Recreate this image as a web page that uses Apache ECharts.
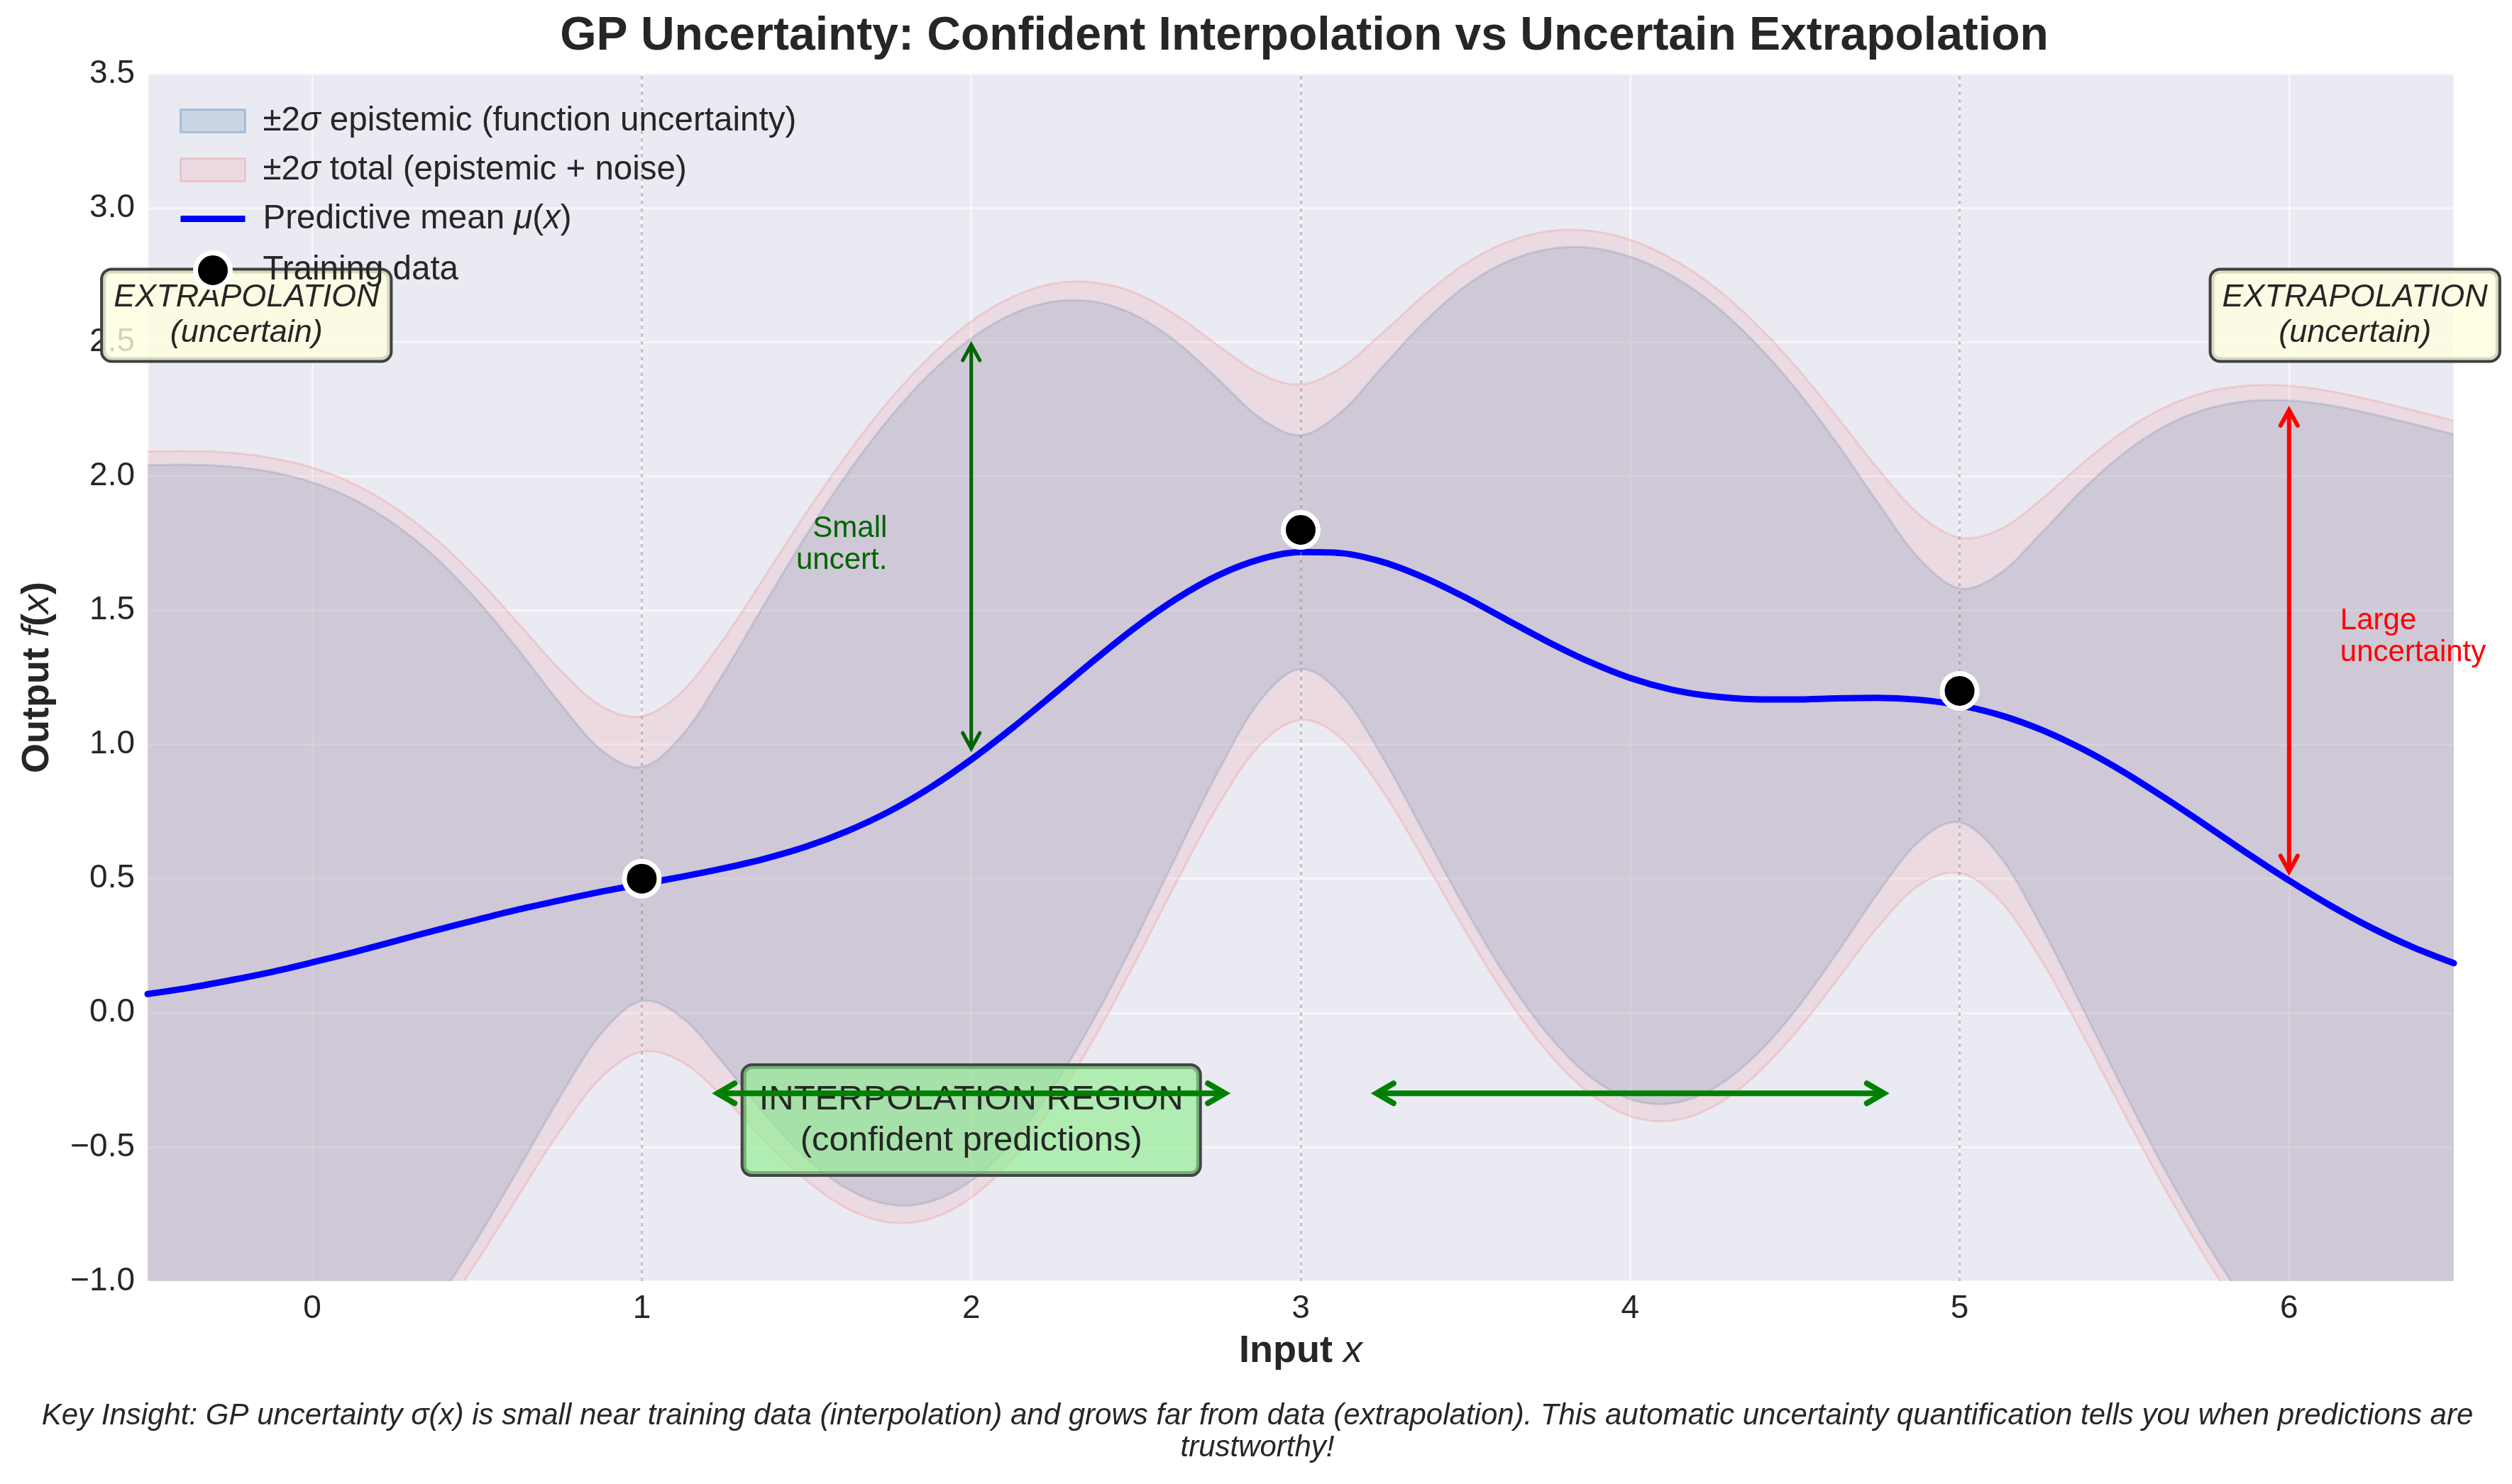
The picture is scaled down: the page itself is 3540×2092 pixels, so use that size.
<!DOCTYPE html>
<html>
<head>
<meta charset="utf-8">
<script src="https://cdn.jsdelivr.net/npm/echarts@6/dist/echarts.min.js"></script>
<style>
  html, body { margin: 0; padding: 0; background: #ffffff; }
  #chart { width: 3540px; height: 2092px; }
</style>
</head>
<body>
<div id="chart"></div>
<script>
// ---------------- DATA (read / estimated from the reference picture) ----------------
const xs = [-0.5, -0.375, -0.25, -0.125, 0, 0.125, 0.25, 0.375, 0.5, 0.625, 0.75, 0.875, 1,
            1.125, 1.25, 1.375, 1.5, 1.625, 1.75, 1.875, 2, 2.125, 2.25, 2.375, 2.5, 2.625, 2.75, 2.875, 3,
            3.125, 3.25, 3.375, 3.5, 3.625, 3.75, 3.875, 4, 4.125, 4.25, 4.375, 4.5, 4.625, 4.75, 4.875, 5,
            5.125, 5.25, 5.375, 5.5, 5.625, 5.75, 5.875, 6, 6.125, 6.25, 6.375, 6.5];
const meanVals = [0.070, 0.093, 0.121, 0.152, 0.188, 0.226, 0.267, 0.308, 0.347, 0.385, 0.419, 0.451, 0.480,
                  0.508, 0.539, 0.575, 0.620, 0.678, 0.750, 0.839, 0.944, 1.062, 1.188, 1.316, 1.438, 1.545, 1.631, 1.690, 1.717,
                  1.713, 1.680, 1.622, 1.548, 1.465, 1.383, 1.309, 1.248, 1.205, 1.180, 1.169, 1.168, 1.172, 1.174, 1.167, 1.146,
                  1.109, 1.054, 0.982, 0.896, 0.799, 0.697, 0.593, 0.493, 0.400, 0.317, 0.245, 0.185];
const epiUpper = [2.041, 2.043, 2.036, 2.016, 1.977, 1.914, 1.821, 1.696, 1.538, 1.354, 1.156, 0.982, 0.916,
                  1.038, 1.270, 1.529, 1.782, 2.012, 2.214, 2.383, 2.514, 2.605, 2.651, 2.650, 2.599, 2.499, 2.361, 2.219, 2.153,
                  2.242, 2.410, 2.575, 2.709, 2.799, 2.846, 2.852, 2.818, 2.749, 2.644, 2.503, 2.330, 2.127, 1.905, 1.696, 1.582,
                  1.640, 1.791, 1.952, 2.087, 2.188, 2.251, 2.280, 2.282, 2.264, 2.232, 2.195, 2.156];
const epiLower = [-1.901, -1.856, -1.794, -1.711, -1.601, -1.461, -1.287, -1.081, -0.844, -0.584, -0.318, -0.080, 0.044,
                  -0.021, -0.192, -0.380, -0.542, -0.657, -0.714, -0.704, -0.626, -0.482, -0.275, -0.018, 0.277, 0.592, 0.901, 1.161, 1.281,
                  1.184, 0.950, 0.669, 0.387, 0.131, -0.080, -0.235, -0.322, -0.338, -0.284, -0.166, 0.006, 0.218, 0.443, 0.637, 0.710,
                  0.579, 0.317, 0.013, -0.295, -0.590, -0.857, -1.094, -1.296, -1.463, -1.598, -1.704, -1.786];
const totUpper = [2.092, 2.093, 2.088, 2.068, 2.032, 1.972, 1.884, 1.766, 1.620, 1.452, 1.281, 1.145, 1.105,
                  1.201, 1.396, 1.629, 1.865, 2.085, 2.281, 2.446, 2.577, 2.668, 2.718, 2.722, 2.682, 2.598, 2.487, 2.383, 2.342,
                  2.406, 2.536, 2.675, 2.792, 2.872, 2.913, 2.915, 2.881, 2.812, 2.711, 2.576, 2.413, 2.226, 2.031, 1.860, 1.771,
                  1.803, 1.916, 2.050, 2.169, 2.258, 2.314, 2.338, 2.337, 2.317, 2.284, 2.246, 2.207];
const totLower = [-1.952, -1.907, -1.846, -1.764, -1.656, -1.519, -1.350, -1.151, -0.926, -0.683, -0.443, -0.243, -0.145,
                  -0.185, -0.318, -0.479, -0.625, -0.730, -0.781, -0.768, -0.689, -0.545, -0.342, -0.091, 0.194, 0.492, 0.775, 0.997, 1.092,
                  1.021, 0.824, 0.569, 0.304, 0.058, -0.147, -0.298, -0.385, -0.402, -0.351, -0.239, -0.077, 0.118, 0.317, 0.474, 0.521,
                  0.415, 0.192, -0.085, -0.377, -0.660, -0.920, -1.152, -1.351, -1.516, -1.650, -1.755, -1.837];
const trainX = [1, 3, 5];
const trainY = [0.5, 1.8, 1.2];

const xTickValues = [0, 1, 2, 3, 4, 5, 6];
const yTickLabels = ['−1.0', '−0.5', '0.0', '0.5', '1.0', '1.5', '2.0', '2.5', '3.0', '3.5'];

const legendLabels = {
  epiBand: '{s| }±2{i|σ} epistemic (function uncertainty)',
  totBand: '{s| }±2{i|σ} total (epistemic + noise)',
  mean: '{s| }Predictive mean {i|μ}({i|x})',
  train: '{s| }Training data'
};

// annotation anchors (data coordinates)
const extrapBoxes = [[-0.2, 2.6], [6.2, 2.6]];
const interpBox = [2.0, -0.4];
const smallArrow = [[2, 0.985], [2, 2.49]];
const largeArrow = [[6, 0.527], [6, 2.247]];
const hArrows = [[[1.23, -0.3], [2.77, -0.3]], [[3.23, -0.3], [4.77, -0.3]]];
const smallLabel = [1.745, 1.745];
const largeLabel = [6.155, 1.4];

// ---------------- CHART ----------------
const FONT = '"Liberation Sans", Arial, Helvetica, sans-serif';
const TXT = '#262626';
const epiFill = 'rgba(70,130,180,0.2)';
const epiEdge = 'rgba(70,130,180,0.22)';
const totFill = 'rgba(240,128,128,0.15)';
const totEdge = 'rgba(240,128,128,0.25)';

const chart = echarts.init(document.getElementById('chart'), null, { renderer: 'canvas' });

function pairs(a) { return xs.map((x, i) => [x, a[i]]); }

// Catmull-Rom densification in pixel space (visual smoothing between plotted points)
function smoothPts(pts) {
  const out = [];
  const n = pts.length;
  for (let i = 0; i < n - 1; i++) {
    const p0 = pts[Math.max(i - 1, 0)], p1 = pts[i], p2 = pts[i + 1], p3 = pts[Math.min(i + 2, n - 1)];
    const c1 = [p1[0] + (p2[0] - p0[0]) / 6, p1[1] + (p2[1] - p0[1]) / 6];
    const c2 = [p2[0] - (p3[0] - p1[0]) / 6, p2[1] - (p3[1] - p1[1]) / 6];
    const steps = 8;
    for (let s = 0; s < steps; s++) {
      const t = s / steps, u = 1 - t;
      out.push([
        u * u * u * p1[0] + 3 * u * u * t * c1[0] + 3 * u * t * t * c2[0] + t * t * t * p2[0],
        u * u * u * p1[1] + 3 * u * u * t * c1[1] + 3 * u * t * t * c2[1] + t * t * t * p2[1]
      ]);
    }
  }
  out.push(pts[n - 1]);
  return out;
}

function bandRenderer(lo, hi, fill, edge) {
  return function (params, api) {
    if (params.dataIndex !== 0) return null;
    const up = smoothPts(xs.map((x, i) => api.coord([x, hi[i]])));
    const dn = smoothPts(xs.map((x, i) => api.coord([x, lo[i]])));
    const cs = params.coordSys;
    return {
      type: 'group',
      clipPath: { type: 'rect', shape: { x: cs.x, y: cs.y, width: cs.width, height: cs.height } },
      children: [
        { type: 'polygon', shape: { points: up.concat(dn.slice().reverse()) }, style: { fill: fill, stroke: null } },
        { type: 'polyline', shape: { points: up }, style: { fill: null, stroke: edge, lineWidth: 3 } },
        { type: 'polyline', shape: { points: dn }, style: { fill: null, stroke: edge, lineWidth: 3 } }
      ]
    };
  };
}

const option = {
  backgroundColor: '#ffffff',
  animation: false,
  title: {
    text: 'GP Uncertainty: Confident Interpolation vs Uncertain Extrapolation',
    left: 1833, textAlign: 'center', top: 14,
    textStyle: { fontSize: 66, fontWeight: 'bold', color: TXT, fontFamily: FONT }
  },
  grid: { left: 208, right: 82, top: 104, bottom: 286, show: true, backgroundColor: '#EAEAF2', borderWidth: 0 },
  legend: {
    orient: 'vertical', left: 248, top: 141, itemWidth: 91, itemHeight: 49, itemGap: 20,
    selectedMode: false, z: 20,
    formatter: n => legendLabels[n],
    textStyle: {
      fontSize: 47.5, color: TXT, fontFamily: FONT, lineHeight: 49,
      rich: {
        s: { width: 20, fontSize: 47.5 },
        i: { fontStyle: 'italic', fontSize: 47.5, color: TXT, fontFamily: FONT, lineHeight: 49 }
      }
    },
    data: [
      { name: 'epiBand', icon: 'path://M0,0H91V32H0Z', itemStyle: { color: epiFill, borderColor: 'rgba(70,130,180,0.35)', borderWidth: 3 } },
      { name: 'totBand', icon: 'path://M0,0H91V32H0Z', itemStyle: { color: totFill, borderColor: 'rgba(240,128,128,0.3)', borderWidth: 3 } },
      { name: 'mean', icon: 'path://M0,0H91V9H0Z', itemStyle: { color: '#0000ff', borderWidth: 0 } },
      { name: 'train', icon: 'circle', itemStyle: { color: '#000000', borderColor: '#ffffff', borderWidth: 7 } }
    ]
  },
  xAxis: {
    type: 'value', min: -0.5, max: 6.5, splitNumber: 7,
    axisLine: { show: false }, axisTick: { show: false },
    axisLabel: {
      fontSize: 46, color: TXT, fontFamily: FONT, margin: 16,
      formatter: v => (xTickValues.indexOf(v) >= 0 ? String(v) : '')
    },
    splitLine: { show: true, lineStyle: { color: 'rgba(255,255,255,0.55)', width: 3 } },
    name: 'Input {i|x}', nameLocation: 'middle', nameGap: 72,
    nameTextStyle: {
      fontSize: 54, fontWeight: 'bold', color: TXT, fontFamily: FONT,
      rich: { i: { fontSize: 54, fontStyle: 'italic', fontWeight: 'normal', color: TXT, fontFamily: FONT } }
    }
  },
  yAxis: {
    type: 'value', min: -1, max: 3.5, interval: 0.5,
    axisLine: { show: false }, axisTick: { show: false },
    axisLabel: {
      fontSize: 46, color: TXT, fontFamily: FONT, margin: 18,
      formatter: v => yTickLabels[Math.round((v + 1) / 0.5)]
    },
    splitLine: { show: true, lineStyle: { color: 'rgba(255,255,255,0.55)', width: 3 } },
    name: 'Output {i|f}({i|x})', nameLocation: 'middle', nameGap: 128,
    nameTextStyle: {
      fontSize: 54, fontWeight: 'bold', color: TXT, fontFamily: FONT,
      rich: { i: { fontSize: 54, fontStyle: 'italic', fontWeight: 'normal', color: TXT, fontFamily: FONT } }
    }
  },
  series: [
    { name: 'epiBand', type: 'custom', coordinateSystem: 'cartesian2d', clip: true, silent: true, z: 2,
      data: xs.map((x, i) => [x, epiLower[i], epiUpper[i]]),
      encode: { x: 0, y: [1, 2] },
      itemStyle: { color: epiFill },
      renderItem: bandRenderer(epiLower, epiUpper, epiFill, epiEdge) },
    { name: 'totBand', type: 'custom', coordinateSystem: 'cartesian2d', clip: true, silent: true, z: 2,
      data: xs.map((x, i) => [x, totLower[i], totUpper[i]]),
      encode: { x: 0, y: [1, 2] },
      itemStyle: { color: totFill },
      renderItem: bandRenderer(totLower, totUpper, totFill, totEdge) },
    { name: 'mean', type: 'line', data: pairs(meanVals), symbol: 'none', smooth: 0.3,
      lineStyle: { color: '#0000ff', width: 9, cap: 'round' }, itemStyle: { color: '#0000ff' }, silent: true, z: 4,
      markLine: {
        silent: true, symbol: ['none', 'none'], label: { show: false }, animation: false,
        lineStyle: { type: [5, 6], color: 'rgba(128,128,128,0.45)', width: 3 },
        data: trainX.map(x => ({ xAxis: x }))
      }
    },
    { name: 'train', type: 'scatter', data: trainX.map((x, i) => [x, trainY[i]]), symbol: 'circle', symbolSize: 49,
      itemStyle: { color: '#000000', borderColor: '#ffffff', borderWidth: 7, opacity: 1 }, silent: true, z: 6 }
  ]
};

chart.setOption(option);

// ---------------- ANNOTATIONS ----------------
function P(pt) { return chart.convertToPixel({ xAxisIndex: 0, yAxisIndex: 0 }, pt); }

function arrow(a, b, color, lw, headLen, headHalf) {
  const p1 = P(a), p2 = P(b);
  const dx = p2[0] - p1[0], dy = p2[1] - p1[1];
  const L = Math.hypot(dx, dy);
  const ux = dx / L, uy = dy / L, nx = -uy, ny = ux;
  const head = (t, sx, sy) => ({
    type: 'polyline', z: 12, silent: true,
    shape: { points: [
      [t[0] - sx * headLen + nx * headHalf, t[1] - sy * headLen + ny * headHalf],
      [t[0], t[1]],
      [t[0] - sx * headLen - nx * headHalf, t[1] - sy * headLen - ny * headHalf]
    ] },
    style: { stroke: color, lineWidth: lw, fill: null, lineCap: 'round', lineJoin: 'miter' }
  });
  return [
    { type: 'line', z: 12, silent: true, shape: { x1: p1[0], y1: p1[1], x2: p2[0], y2: p2[1] },
      style: { stroke: color, lineWidth: lw, lineCap: 'butt' } },
    head(p2, ux, uy),
    head(p1, -ux, -uy)
  ];
}

function buildGraphics() {
  const g = [];
  extrapBoxes.forEach(pt => {
    const p = P(pt);
    g.push({ type: 'text', z: 10, silent: true,
      style: { text: 'EXTRAPOLATION\n(uncertain)', x: p[0], y: p[1], align: 'center', verticalAlign: 'middle',
        fontSize: 45, fontStyle: 'italic', fontFamily: FONT, fill: TXT, lineHeight: 50,
        backgroundColor: 'rgba(255,255,224,0.8)', borderColor: '#404040', borderWidth: 4, borderRadius: 12,
        padding: [13, 15, 13, 15] } });
  });
  const ib = P(interpBox);
  g.push({ type: 'text', z: 10, silent: true,
    style: { text: 'INTERPOLATION REGION\n(confident predictions)', x: ib[0], y: ib[1], align: 'center', verticalAlign: 'middle',
      fontSize: 49, fontFamily: FONT, fill: TXT, lineHeight: 58,
      backgroundColor: 'rgba(144,238,144,0.65)', borderColor: '#444444', borderWidth: 4, borderRadius: 12,
      padding: [18, 22, 18, 22] } });

  const sl = P(smallLabel);
  g.push({ type: 'text', z: 11, silent: true,
    style: { text: 'Small\nuncert.', x: sl[0], y: sl[1], align: 'right', verticalAlign: 'middle',
      fontSize: 42, fontFamily: FONT, fill: '#006400', lineHeight: 45 } });
  const ll = P(largeLabel);
  g.push({ type: 'text', z: 11, silent: true,
    style: { text: 'Large\nuncertainty', x: ll[0], y: ll[1], align: 'left', verticalAlign: 'middle',
      fontSize: 42, fontFamily: FONT, fill: '#ff0000', lineHeight: 45 } });

  g.push(...arrow(smallArrow[0], smallArrow[1], '#006400', 5, 22, 12));
  g.push(...arrow(largeArrow[0], largeArrow[1], '#ff0000', 6, 22, 12));
  hArrows.forEach(h => g.push(...arrow(h[0], h[1], '#008000', 8, 24, 14)));

  g.push({ type: 'text', z: 11, silent: true,
    style: { text: 'Key Insight: GP uncertainty σ(x) is small near training data (interpolation) and grows far from data (extrapolation). This automatic uncertainty quantification tells you when predictions are\ntrustworthy!',
      x: 1772, y: 2019, align: 'center', verticalAlign: 'middle',
      fontSize: 42, fontStyle: 'italic', fontFamily: FONT, fill: TXT, lineHeight: 45 } });
  return g;
}

chart.setOption({ graphic: buildGraphics() });
</script>
</body>
</html>
